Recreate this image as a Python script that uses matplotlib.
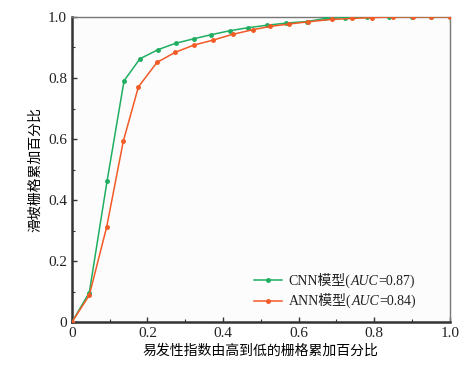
import matplotlib
matplotlib.use("Agg")
import matplotlib.pyplot as plt
from matplotlib.ticker import MultipleLocator
from matplotlib.offsetbox import (AnchoredOffsetbox, HPacker, VPacker,
                                  TextArea, DrawingArea)
from matplotlib.lines import Line2D

plt.rcParams['font.family'] = ['Liberation Serif', 'Noto Sans CJK SC']

cnn_x = [0, 0.046, 0.093, 0.138, 0.18, 0.228, 0.275, 0.324, 0.369, 0.418, 0.467,
         0.517, 0.567, 0.622, 0.670, 0.724, 0.78, 0.84, 0.90, 0.95, 1.0]
cnn_y = [0, 0.097, 0.462, 0.791, 0.863, 0.893, 0.914, 0.929, 0.942, 0.955, 0.965,
         0.973, 0.980, 0.985, 0.995, 0.998, 1.0, 1.0, 1.0, 1.0, 1.0]
ann_x = [0, 0.046, 0.092, 0.136, 0.176, 0.225, 0.273, 0.323, 0.373, 0.425, 0.478,
         0.524, 0.575, 0.624, 0.687, 0.74, 0.794, 0.85, 0.903, 0.951, 1.0]
ann_y = [0, 0.088, 0.312, 0.593, 0.771, 0.851, 0.884, 0.908, 0.924, 0.943, 0.958,
         0.969, 0.977, 0.984, 0.992, 0.995, 0.998, 1.0, 1.0, 1.0, 1.0]
ticks = [0, 0.2, 0.4, 0.6, 0.8, 1.0]
tick_labels = ['0', '0.2', '0.4', '0.6', '0.8', '1.0']
series_names = ['CNN模型', 'ANN模型']
auc_values = ['0.87', '0.84']
colors = ['#1fae62', '#f25a26']

fig = plt.figure(figsize=(4.70, 3.69), dpi=100)
ax = fig.add_axes([0.153, 0.127, 0.804, 0.827])
ax.set_facecolor('#fcfcfc')

ax.plot(cnn_x, cnn_y, color=colors[0], lw=1.1, marker='o', ms=2.5, zorder=3)
ax.plot(ann_x, ann_y, color=colors[1], lw=1.1, marker='o', ms=2.5, zorder=3)

ax.set_xlim(0, 1)
ax.set_ylim(0, 1)
ax.set_xticks(ticks)
ax.set_xticklabels(tick_labels)
ax.set_yticks(ticks)
ax.set_yticklabels(tick_labels)
ax.xaxis.set_minor_locator(MultipleLocator(0.1))
ax.yaxis.set_minor_locator(MultipleLocator(0.1))
ax.tick_params(which='both', direction='in', labelsize=11, colors='#333333',
               labelcolor='#222222')
ax.tick_params(which='major', length=3.5, width=1)
ax.tick_params(which='minor', length=2, width=0.8)
ax.tick_params(top=False, right=False, which='both')

for s in ['left', 'bottom']:
    ax.spines[s].set_linewidth(1.8)
    ax.spines[s].set_color('#333333')
for s in ['top', 'right']:
    ax.spines[s].set_linewidth(1.0)
    ax.spines[s].set_color('#777777')

ax.set_xlabel('易发性指数由高到低的栅格累加百分比', fontsize=10, labelpad=3)
ax.set_ylabel('滑坡栅格累加百分比', fontsize=10, labelpad=4)

# custom legend (mixed CJK + italic AUC)
rows = []
fp = dict(fontsize=10, color='#222222')
for name, auc, c in zip(series_names, auc_values, colors):
    da = DrawingArea(20, 8, 0, 0)
    da.add_artist(Line2D([0, 20], [4, 4], color=c, lw=1.1))
    da.add_artist(Line2D([10], [4], color=c, marker='o', ms=2.5))
    t1 = TextArea(name + '(', textprops=fp)
    t2 = TextArea('AUC', textprops=dict(fp, fontstyle='italic'))
    t3 = TextArea('=' + auc + ')', textprops=fp)
    txt = HPacker(children=[t1, t2, t3], align='baseline', pad=0, sep=0)
    rows.append(HPacker(children=[da, txt], align='center', pad=0, sep=5))
box = VPacker(children=rows, align='left', pad=0, sep=4)
anch = AnchoredOffsetbox(loc='lower right', child=box, frameon=False,
                         bbox_to_anchor=(0.91, 0.045),
                         bbox_transform=ax.transAxes, pad=0, borderpad=0)
ax.add_artist(anch)

fig.savefig('out.png', dpi=100, facecolor='white')
